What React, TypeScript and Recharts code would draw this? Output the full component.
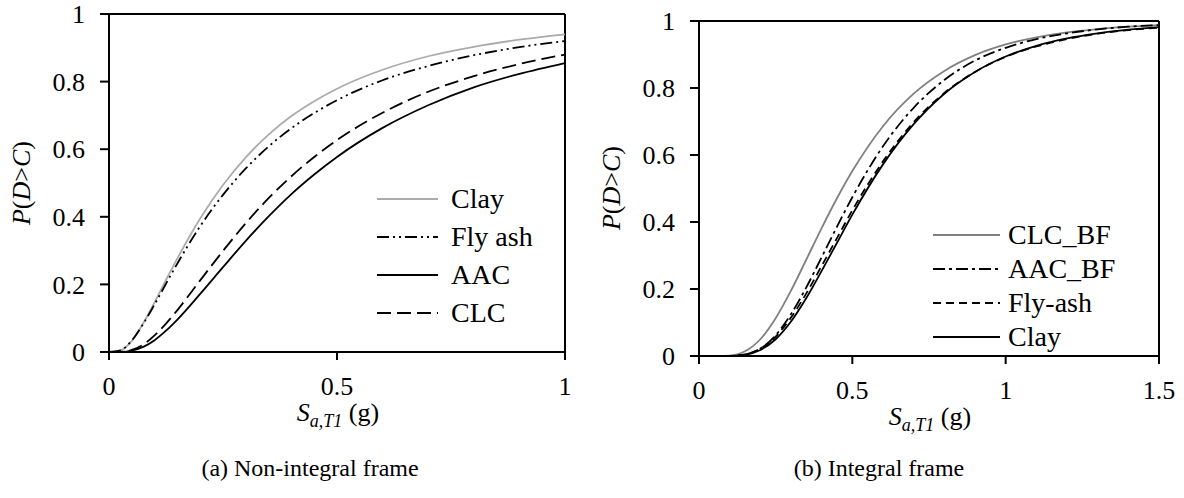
import React from 'react';
import { LineChart, Line, XAxis, YAxis, ReferenceLine, Legend } from 'recharts';

// ---- (a) Non-integral frame ----
const xLeft = [0, 0.025, 0.05, 0.075, 0.1, 0.125, 0.15, 0.2, 0.25, 0.3, 0.35, 0.4, 0.45, 0.5, 0.6, 0.7, 0.8, 0.9, 1.0];
const clayA = [0, 0.0045, 0.033, 0.085, 0.147, 0.213, 0.277, 0.395, 0.494, 0.576, 0.643, 0.698, 0.742, 0.779, 0.835, 0.875, 0.903, 0.924, 0.94];
const flyAshA = [0, 0.005, 0.034, 0.083, 0.141, 0.202, 0.262, 0.372, 0.465, 0.543, 0.608, 0.662, 0.707, 0.745, 0.804, 0.846, 0.878, 0.902, 0.92];
const aacA = [0, 0.0002, 0.004, 0.015, 0.035, 0.063, 0.096, 0.172, 0.251, 0.329, 0.401, 0.467, 0.525, 0.577, 0.663, 0.73, 0.783, 0.823, 0.855];
const clcA = [0, 0.0004, 0.006, 0.022, 0.049, 0.084, 0.124, 0.212, 0.299, 0.381, 0.455, 0.52, 0.577, 0.627, 0.708, 0.77, 0.816, 0.852, 0.88];
const xTicksLeft = [0, 0.5, 1];

// ---- (b) Integral frame ----
const xRight = [0, 0.1, 0.15, 0.2, 0.25, 0.3, 0.35, 0.4, 0.45, 0.5, 0.6, 0.7, 0.8, 0.9, 1.0, 1.1, 1.2, 1.3, 1.4, 1.5];
const clcBf = [0, 0.0014, 0.014, 0.05, 0.113, 0.195, 0.288, 0.382, 0.471, 0.552, 0.686, 0.783, 0.851, 0.898, 0.93, 0.951, 0.966, 0.976, 0.983, 0.988];
const aacBf = [0, 0.0002, 0.0044, 0.022, 0.062, 0.125, 0.205, 0.295, 0.386, 0.474, 0.626, 0.741, 0.824, 0.882, 0.92, 0.946, 0.963, 0.975, 0.983, 0.988];
const flyAshB = [0, 0.0003, 0.0046, 0.022, 0.058, 0.115, 0.187, 0.269, 0.352, 0.435, 0.581, 0.698, 0.785, 0.848, 0.893, 0.924, 0.946, 0.962, 0.973, 0.98];
const clayB = [0, 0.0002, 0.0034, 0.018, 0.05, 0.103, 0.173, 0.254, 0.338, 0.422, 0.572, 0.692, 0.783, 0.848, 0.894, 0.926, 0.948, 0.963, 0.974, 0.982];
const xTicksRight = [0, 0.5, 1, 1.5];

const yTicks = [0, 0.2, 0.4, 0.6, 0.8, 1];

const dataLeft = xLeft.map((x, i) => ({ x, clay: clayA[i], flyash: flyAshA[i], aac: aacA[i], clc: clcA[i] }));
const dataRight = xRight.map((x, i) => ({ x, clcbf: clcBf[i], aacbf: aacBf[i], flyash: flyAshB[i], clay: clayB[i] }));

const FONT = 'Liberation Serif, serif';

const seriesLeft = [
  { key: 'clay', name: 'Clay', color: '#ababab', dash: undefined },
  { key: 'flyash', name: 'Fly ash', color: '#000', dash: '12 4 2 4 2 4' },
  { key: 'aac', name: 'AAC', color: '#000', dash: undefined },
  { key: 'clc', name: 'CLC', color: '#000', dash: '14 6' },
];
const seriesRight = [
  { key: 'clcbf', name: 'CLC_BF', color: '#808080', dash: undefined },
  { key: 'aacbf', name: 'AAC_BF', color: '#000', dash: '12 4 3 4' },
  { key: 'flyash', name: 'Fly-ash', color: '#000', dash: '8 5' },
  { key: 'clay', name: 'Clay', color: '#000', dash: undefined },
];

const fmt = (v: number) => String(v);

const tickStyle = { fill: '#000', fontSize: 26, fontFamily: FONT };

function makeLegend(series: any[], rowGap: number, lineW: number, textX: number) {
  return () => (
    <svg width={220} height={rowGap * 4 + 20} style={{ overflow: 'visible', display: 'block' }}>
      {series.map((s, i) => {
        const cy = 20 + i * rowGap;
        return (
          <g key={s.key}>
            <line x1={8} x2={8 + lineW} y1={cy} y2={cy} stroke={s.color} strokeWidth={2} strokeDasharray={s.dash} />
            <text x={textX} y={cy + 9} fontSize={28} fontFamily={FONT} fill="#000">{s.name}</text>
          </g>
        );
      })}
    </svg>
  );
}

function Panel(props: any) {
  const { data, series, xMax, xTicks, width, margin, yWidth, legendPos, legendGap, legendLineW, legendTextX } = props;
  return (
    <LineChart width={width} height={440} data={data} margin={margin}>
      <XAxis
        type="number"
        dataKey="x"
        domain={[0, xMax]}
        ticks={xTicks}
        tickFormatter={fmt}
        height={60}
        axisLine={{ stroke: '#000', strokeWidth: 2 }}
        tickLine={{ stroke: '#000', strokeWidth: 2 }}
        tickSize={8}
        tickMargin={17}
        tick={tickStyle}
      />
      <YAxis
        type="number"
        domain={[0, 1]}
        ticks={yTicks}
        tickFormatter={fmt}
        width={yWidth}
        axisLine={{ stroke: '#000', strokeWidth: 2 }}
        tickLine={{ stroke: '#000', strokeWidth: 2 }}
        tickSize={9}
        tickMargin={15}
        tick={tickStyle}
        interval={0}
      />
      <ReferenceLine y={1} stroke="#000" strokeWidth={2} />
      <ReferenceLine x={xMax} stroke="#000" strokeWidth={2} />
      {series.map((s: any) => (
        <Line
          key={s.key}
          type="monotone"
          dataKey={s.key}
          name={s.name}
          stroke={s.color}
          strokeWidth={1.8}
          strokeDasharray={s.dash}
          dot={false}
          activeDot={false}
          isAnimationActive={false}
        />
      ))}
      <Legend
        layout="vertical"
        align="center"
        verticalAlign="middle"
        content={makeLegend(series, legendGap, legendLineW, legendTextX)}
        wrapperStyle={{ position: 'absolute', left: legendPos[0], top: legendPos[1], width: 220, bottom: 'auto', right: 'auto', margin: 0 }}
      />
    </LineChart>
  );
}

function YTitle({ cx, cy }: { cx: number; cy: number }) {
  return (
    <text transform={`translate(${cx + 9},${cy}) rotate(-90)`} textAnchor="middle" fontSize={26} fontFamily={FONT} fill="#000">
      <tspan fontStyle="italic">P</tspan>
      <tspan>(</tspan>
      <tspan fontStyle="italic">D</tspan>
      <tspan>&gt;</tspan>
      <tspan fontStyle="italic">C</tspan>
      <tspan>)</tspan>
    </text>
  );
}

function XTitle({ cx, y }: { cx: number; y: number }) {
  return (
    <text x={cx} y={y} textAnchor="middle" fontSize={26} fontFamily={FONT} fill="#000">
      <tspan fontStyle="italic">S</tspan>
      <tspan fontStyle="italic" fontSize={18} dy={6}>a,T1</tspan>
      <tspan dy={-6}> (g)</tspan>
    </text>
  );
}

export default function App() {
  return (
    <div style={{ position: 'absolute', left: 0, top: 0, width: 1184, height: 498, background: '#fff', fontFamily: FONT }}>
      <div style={{ position: 'absolute', left: 0, top: 0 }}>
        <Panel
          data={dataLeft}
          series={seriesLeft}
          xMax={1}
          xTicks={xTicksLeft}
          width={600}
          yWidth={109}
          margin={{ top: 14, right: 35, bottom: 28, left: 0 }}
          legendPos={[369, 179]}
          legendGap={38}
          legendLineW={61}
          legendTextX={82}
        />
      </div>
      <div style={{ position: 'absolute', left: 600, top: 0 }}>
        <Panel
          data={dataRight}
          series={seriesRight}
          xMax={1.5}
          xTicks={xTicksRight}
          width={584}
          yWidth={99}
          margin={{ top: 21, right: 25, bottom: 24, left: 0 }}
          legendPos={[325, 215]}
          legendGap={34}
          legendLineW={67}
          legendTextX={83}
        />
      </div>
      <svg width={1184} height={498} style={{ position: 'absolute', left: 0, top: 0, pointerEvents: 'none' }}>
        <YTitle cx={21} cy={183} />
        <YTitle cx={611} cy={188} />
        <XTitle cx={338} y={421} />
        <XTitle cx={930} y={425} />
        <text x={310} y={476} textAnchor="middle" fontSize={24} fontFamily={FONT} fill="#000">(a) Non-integral frame</text>
        <text x={879} y={476} textAnchor="middle" fontSize={24} fontFamily={FONT} fill="#000">(b) Integral frame</text>
      </svg>
    </div>
  );
}
